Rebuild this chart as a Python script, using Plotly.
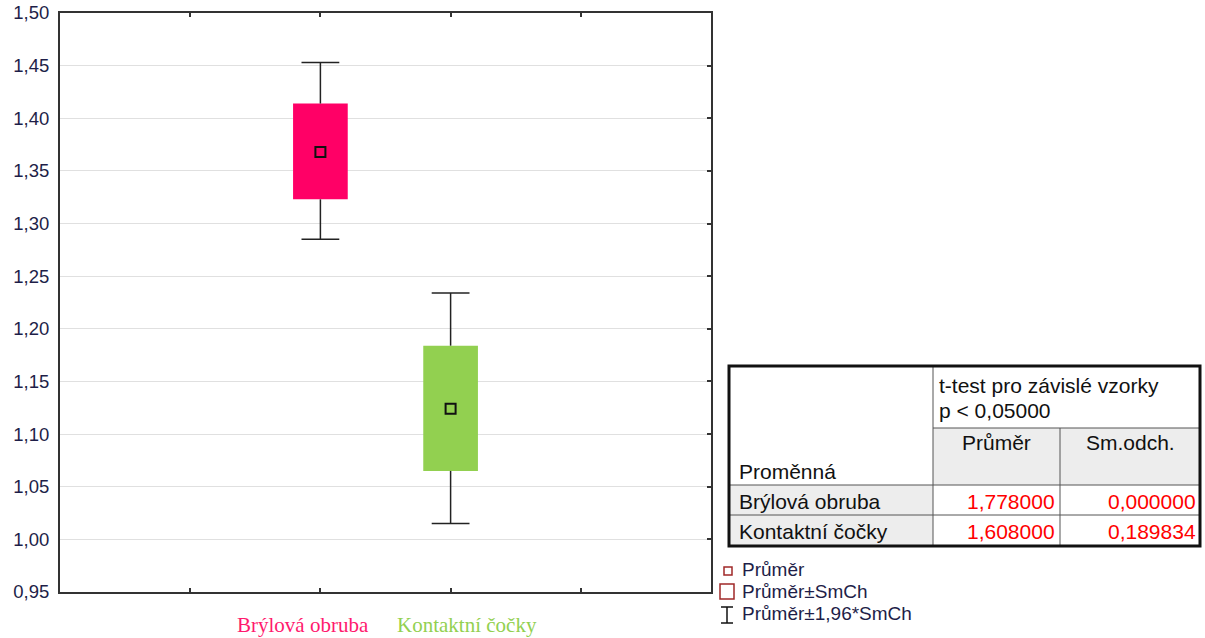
import plotly.graph_objects as go

# ---- data -------------------------------------------------------------
categories = ["Brýlová obruba", "Kontaktní čočky"]
cat_pos = [2, 3]
means = [1.368, 1.124]              # Průměr
box_low = [1.323, 1.065]            # Průměr - SmCh
box_high = [1.414, 1.184]           # Průměr + SmCh
whisk_low = [1.285, 1.015]          # Průměr - 1,96*SmCh
whisk_high = [1.453, 1.234]         # Průměr + 1,96*SmCh
box_colors = ["#FF0066", "#92D050"]
label_colors = ["#FF1A6E", "#92D050"]

y_ticks = [0.95, 1.00, 1.05, 1.10, 1.15, 1.20, 1.25, 1.30, 1.35, 1.40, 1.45, 1.50]
y_labels = ["0,95", "1,00", "1,05", "1,10", "1,15", "1,20", "1,25", "1,30",
            "1,35", "1,40", "1,45", "1,50"]
x_ticks = [1, 2, 3, 4]

# summary table
table_title = ["t-test pro závislé vzorky", "p < 0,05000"]
table_cols = ["Proměnná", "Průměr", "Sm.odch."]
table_rows = ["Brýlová obruba", "Kontaktní čočky"]
table_mean = ["1,778000", "1,608000"]
table_sd = ["0,000000", "0,189834"]

legend_items = ["Průměr", "Průměr±SmCh", "Průměr±1,96*SmCh"]

# ---- layout geometry (pixels) ----------------------------------------
W, H = 1205, 638
L, R, T, B = 60, 711, 13, 592


def px(x):
    return (x - L) / (R - L)


def py(y):
    return (B - y) / (B - T)


AX_FONT = "Liberation Sans, Arial, sans-serif"
TXT_DARK = "#1E1E48"

fig = go.Figure()

# boxes: mean ± SE
fig.add_trace(go.Bar(
    x=cat_pos,
    y=[h - l for h, l in zip(box_high, box_low)],
    base=box_low,
    width=0.42,
    marker=dict(color=box_colors, line=dict(width=0)),
    hoverinfo="skip",
))

# whiskers: mean ± 1.96*SE (stems from the box edges)
wx, wy = [], []
for xc, bl, bh, wl, wh in zip(cat_pos, box_low, box_high, whisk_low, whisk_high):
    wx += [xc, xc, None, xc, xc, None]
    wy += [bh, wh, None, bl, wl, None]
fig.add_trace(go.Scatter(
    x=wx, y=wy, mode="lines",
    line=dict(color="#222222", width=1.5),
    hoverinfo="skip",
))
# whisker caps
fig.add_trace(go.Scatter(
    x=cat_pos + cat_pos, y=whisk_high + whisk_low, mode="markers",
    marker=dict(symbol="line-ew", size=27,
                line=dict(color="#222222", width=1.5)),
    hoverinfo="skip",
))
# mean markers
fig.add_trace(go.Scatter(
    x=cat_pos, y=means, mode="markers",
    marker=dict(symbol="square-open", size=10, color="#111111",
                line=dict(width=2)),
    hoverinfo="skip",
))
# right-hand axis carrying the inward tick marks
fig.add_trace(go.Scatter(x=[None], y=[None], yaxis="y2", showlegend=False))

fig.update_layout(
    width=W, height=H,
    margin=dict(l=L, r=W - R, t=T, b=H - B),
    paper_bgcolor="white", plot_bgcolor="white",
    showlegend=False,
    xaxis=dict(
        range=[0, 5], tickvals=x_ticks, showticklabels=False,
        ticks="inside", ticklen=4, tickcolor="#333333", tickwidth=1.5,
        showgrid=False, zeroline=False, automargin=False,
        showline=True, linecolor="#333333", linewidth=2, mirror="ticks",
    ),
    yaxis=dict(
        range=[0.95, 1.50], tickvals=y_ticks, ticktext=y_labels,
        ticks="", showgrid=True, gridcolor="#E0E0E0", gridwidth=1,
        zeroline=False, showline=True, linecolor="#333333", linewidth=2,
        mirror=True, ticklabelstandoff=5, automargin=False,
        tickfont=dict(family=AX_FONT, size=18.5, color=TXT_DARK),
    ),
    yaxis2=dict(
        range=[0.95, 1.50], tickvals=y_ticks, overlaying="y", side="right",
        showticklabels=False, ticks="inside", ticklen=4, automargin=False,
        tickcolor="#333333", tickwidth=1.5, showgrid=False, zeroline=False,
        showline=False,
    ),
)

# category labels below the plot
label_x = [302.5, 467]
for name, col, lx in zip(categories, label_colors, label_x):
    fig.add_annotation(
        x=px(lx), y=py(625), xref="paper", yref="paper",
        text=name, showarrow=False, xanchor="center", yanchor="middle",
        font=dict(family="Liberation Serif, Times New Roman, serif",
                  size=21, color=col),
    )

# ---- summary table ----------------------------------------------------
shapes = []
TL, TR, TT, TB = 729, 1200, 366, 546
C1, C2 = 933, 1060
R1, R2, R3 = 428, 485, 515
GREY = "#EDEDED"


def rect(x0, y0, x1, y1, **kw):
    shapes.append(dict(type="rect", xref="paper", yref="paper",
                       x0=px(x0), x1=px(x1), y0=py(y1), y1=py(y0), **kw))


def line(x0, y0, x1, y1, color="#555555", width=1):
    shapes.append(dict(type="line", xref="paper", yref="paper",
                       x0=px(x0), x1=px(x1), y0=py(y0), y1=py(y1),
                       line=dict(color=color, width=width)))


rect(C1, R1, TR, R2, fillcolor=GREY, line=dict(width=0))
rect(TL, R2, C1, TB, fillcolor=GREY, line=dict(width=0))
line(C1, TT, C1, TB)
line(C2, R1, C2, TB)
line(C1, R1, TR, R1)
line(TL, R2, TR, R2)
line(TL, R3, TR, R3)
rect(TL, TT, TR, TB, line=dict(color="#111111", width=3))


def text(x, y, s, anchor="left", color="#111111", size=21, family=AX_FONT):
    fig.add_annotation(
        x=px(x), y=py(y), xref="paper", yref="paper", text=s,
        showarrow=False, xanchor=anchor, yanchor="middle",
        font=dict(family=family, size=size, color=color),
    )


text(937, 385, table_title[0])
text(937, 411, table_title[1])
text(737, 471, table_cols[0])
text((C1 + C2) / 2, 442, table_cols[1], anchor="center")
text((C2 + TR) / 2, 442, table_cols[2], anchor="center")
row_y = [501, 531]
for name, m, s, ry in zip(table_rows, table_mean, table_sd, row_y):
    text(737, ry, name)
    text(1057, ry, m, anchor="right", color="#FF0000")
    text(1198, ry, s, anchor="right", color="#FF0000")

# ---- key for the plot symbols ----------------------------------------
KEY_RED = "#A02828"
rect(724, 567, 732, 575, line=dict(color=KEY_RED, width=1.5), fillcolor="white")
rect(720, 584, 734, 599, line=dict(color=KEY_RED, width=1.5), fillcolor="white")
line(727, 607, 727, 623, color="#111111", width=1.5)
line(721, 607, 733, 607, color="#111111", width=1.5)
line(721, 623, 733, 623, color="#111111", width=1.5)
key_y = [569, 591, 613]
for s, ky in zip(legend_items, key_y):
    text(740, ky, s, color=TXT_DARK, size=19)

fig.update_layout(shapes=shapes)

fig.write_html("out.html")
